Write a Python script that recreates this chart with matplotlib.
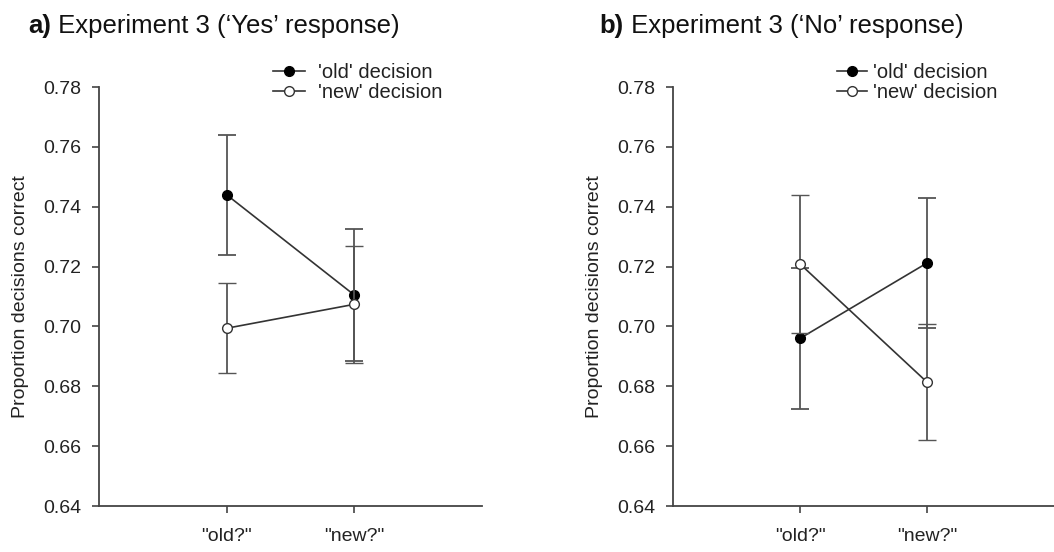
import matplotlib.pyplot as plt

plt.rcParams['font.family'] = ['Liberation Sans', 'DejaVu Sans']

conditions = ['"old?"', '"new?"']
xpos = [1, 2]

# a) 'Yes' response
yes_old = [0.744, 0.7105]
yes_old_err = [0.020, 0.022]
yes_new = [0.6994, 0.7074]
yes_new_err = [0.015, 0.0195]

# b) 'No' response
no_old = [0.696, 0.7212]
no_old_err = [0.0235, 0.0217]
no_new = [0.7209, 0.6814]
no_new_err = [0.023, 0.0193]

yticks = [0.64, 0.66, 0.68, 0.70, 0.72, 0.74, 0.76, 0.78]

fig = plt.figure(figsize=(10.54, 5.52), dpi=100)
ax1 = fig.add_axes([0.0939, 0.0833, 0.3634, 0.759])
ax2 = fig.add_axes([0.6385, 0.0833, 0.3615, 0.759])

line_c = '#333333'
err_c = '#555555'


def panel(ax, old, old_err, new, new_err, leg_x, hl, htp):
    ax.errorbar(xpos, old, yerr=old_err, color=line_c, ecolor=err_c, elinewidth=1.3,
                capsize=6.5, capthick=1.3, lw=1.2, marker='o', ms=7,
                mfc='black', mec='black', label="'old' decision", zorder=3)
    ax.errorbar(xpos, new, yerr=new_err, color=line_c, ecolor=err_c, elinewidth=1.3,
                capsize=6.5, capthick=1.3, lw=1.2, marker='o', ms=7,
                mfc='white', mec='#333333', mew=1.0, label="'new' decision", zorder=4)
    ax.set_xlim(0, 3)
    ax.set_ylim(0.64, 0.78)
    ax.set_xticks(xpos)
    ax.set_xticklabels(conditions)
    ax.set_yticks(yticks)
    ax.set_yticklabels([f'{t:.2f}' for t in yticks])
    for s in ['top', 'right']:
        ax.spines[s].set_visible(False)
    for s in ['left', 'bottom']:
        ax.spines[s].set_color('#444444')
        ax.spines[s].set_linewidth(1.3)
    ax.tick_params(direction='out', length=5, width=1.2, color='#444444',
                   labelsize=14, labelcolor='#222222', pad=8)
    ax.tick_params(axis='x', pad=11)
    ax.set_ylabel('Proportion decisions correct', fontsize=14, color='#222222', labelpad=10)
    handles, labels = ax.get_legend_handles_labels()
    handles = [h[0] for h in handles]
    ax.legend(handles, labels, loc='upper left', bbox_to_anchor=(leg_x, 1.058),
              frameon=False, fontsize=14.5, handlelength=hl, handletextpad=htp,
              borderpad=0, borderaxespad=0, labelspacing=0.05, labelcolor='#222222')


panel(ax1, yes_old, yes_old_err, yes_new, yes_new_err, 0.454, 1.6, 0.65)
panel(ax2, no_old, no_old_err, no_new, no_new_err, 0.430, 1.5, 0.3)


def title(x, tag, text):
    t = fig.text(x, 0.932, tag, fontsize=18.5, fontweight='bold', color='#111111', va='bottom')
    fig.text(0, 0, text, fontsize=18.5, color='#111111', va='bottom', ha='left')
    fig.canvas.draw()
    bb = t.get_window_extent()
    inv = fig.transFigure.inverted()
    x1, y0 = inv.transform((bb.x1, bb.y0))
    fig.texts[-1].set_position((x1, y0))


title(0.0266, 'a)', ' Experiment 3 (\u2018Yes\u2019 response)')
title(0.569, 'b)', ' Experiment 3 (\u2018No\u2019 response)')

fig.savefig('out.png', dpi=100)
